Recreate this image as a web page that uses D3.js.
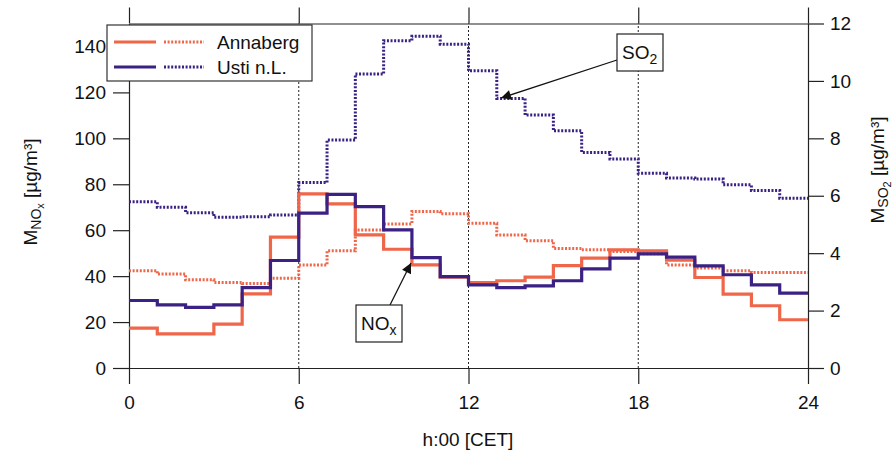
<!DOCTYPE html>
<html>
<head>
<meta charset="utf-8">
<script src="https://cdn.jsdelivr.net/npm/d3@7"></script>
<style>
  html, body { margin: 0; padding: 0; background: #fff; }
  svg { display: block; font-family: Arial, "Liberation Sans", sans-serif; }
</style>
</head>
<body>
<svg id="chart" width="894" height="454"></svg>
<script>
const hours = [0,1,2,3,4,5,6,7,8,9,10,11,12,13,14,15,16,17,18,19,20,21,22,23];
const xTicks = [0, 6, 12, 18, 24];
const gridHours = [6, 12, 18];
const leftTicks = [0, 20, 40, 60, 80, 100, 120, 140];
const rightTicks = [0, 2, 4, 6, 8, 10, 12];

const annabergNOx = [17.4,14.9,14.9,19.1,32.3,57.0,75.8,71.5,58.0,51.7,44.9,39.6,37.2,38.0,39.6,44.6,47.8,51.4,51.0,47.0,39.4,32.2,27.1,21.0];
const ustiNOx     = [29.4,27.5,26.4,27.5,35.0,46.8,67.4,75.6,70.3,60.1,48.1,39.8,36.2,35.0,35.8,38.0,43.2,47.8,49.7,48.3,44.5,40.6,36.2,32.6];
const annabergSO2 = [3.39,3.27,3.07,2.98,2.94,3.13,3.59,4.08,4.81,5.02,5.45,5.37,5.04,4.63,4.43,4.16,4.12,4.06,3.98,3.59,3.48,3.39,3.33,3.33];
const ustiSO2     = [5.79,5.60,5.41,5.25,5.27,5.33,6.46,7.94,10.24,11.40,11.56,11.28,10.35,9.39,8.81,8.26,7.51,7.28,6.78,6.62,6.58,6.38,6.18,5.91];

const stations = ["Annaberg", "Usti n.L."];
const RED = "#EF6649", BLUE = "#3A2183";
const colors = [RED, BLUE];

const svg = d3.select("#chart");
const L = 129, R = 808, T = 23.5, B = 368;
const x = d3.scaleLinear().domain([0, 24]).range([L, R]);
const yL = d3.scaleLinear().domain([0, 150]).range([B, T]);
const yR = d3.scaleLinear().domain([0, 12]).range([B, T]);

const FS = 19;

// grid (dotted verticals)
svg.append("g").selectAll("line").data(gridHours).join("line")
  .attr("x1", d => x(d)).attr("x2", d => x(d))
  .attr("y1", B).attr("y2", T)
  .attr("stroke", "#222").attr("stroke-width", 1).attr("stroke-dasharray", "2,2");

function styleAxis(g) {
  g.selectAll(".domain").attr("stroke", "#222").attr("stroke-width", 1.2);
  g.selectAll(".tick line").attr("stroke", "#222").attr("stroke-width", 1.2);
  g.selectAll(".tick text").attr("font-size", FS).attr("fill", "#111")
    .attr("font-family", "Arial, 'Liberation Sans', sans-serif");
}

svg.append("g").attr("transform", `translate(0,${B})`)
  .call(d3.axisBottom(x).tickValues(xTicks).tickSize(16).tickPadding(12).tickSizeOuter(0))
  .call(styleAxis);
svg.append("g").attr("transform", `translate(0,${T})`)
  .call(d3.axisTop(x).tickValues(xTicks).tickSize(16).tickFormat("").tickSizeOuter(0))
  .call(styleAxis);
svg.append("g").attr("transform", `translate(${L},0)`)
  .call(d3.axisLeft(yL).tickValues(leftTicks).tickSize(16).tickPadding(7).tickSizeOuter(0))
  .call(styleAxis);
svg.append("g").attr("transform", `translate(${R},0)`)
  .call(d3.axisRight(yR).tickValues(rightTicks).tickSize(16).tickPadding(6).tickSizeOuter(0))
  .call(styleAxis);

// step lines
function stepData(vals) {
  const pts = hours.map((h, i) => [h, vals[i]]);
  pts.push([24, vals[vals.length - 1]]);
  return pts;
}
const lineL = d3.line().x(d => x(d[0])).y(d => yL(d[1])).curve(d3.curveStepAfter);
const lineR = d3.line().x(d => x(d[0])).y(d => yR(d[1])).curve(d3.curveStepAfter);

const plot = svg.append("g");
[annabergSO2, ustiSO2].forEach((vals, i) => {
  plot.append("path").attr("d", lineR(stepData(vals)))
    .attr("fill", "none").attr("stroke", colors[i]).attr("stroke-width", 3)
    .attr("stroke-dasharray", "2,1.6");
});
[annabergNOx, ustiNOx].forEach((vals, i) => {
  plot.append("path").attr("d", lineL(stepData(vals)))
    .attr("fill", "none").attr("stroke", colors[i]).attr("stroke-width", 3.2);
});

// axis titles
svg.append("text").attr("x", 468).attr("y", 446).attr("text-anchor", "middle")
  .attr("font-size", FS).attr("fill", "#111").text("h:00 [CET]");

const lt = svg.append("text").attr("transform", "translate(37,192) rotate(-90)")
  .attr("text-anchor", "middle").attr("font-size", FS).attr("fill", "#111");
lt.append("tspan").text("M");
lt.append("tspan").attr("font-size", 14).attr("dy", 4).text("NO");
lt.append("tspan").attr("font-size", 11).attr("dy", 3).text("x");
lt.append("tspan").attr("dy", -7).text(" [µg/m³]");

const rt = svg.append("text").attr("transform", "translate(884,170) rotate(-90)")
  .attr("text-anchor", "middle").attr("font-size", FS).attr("fill", "#111");
rt.append("tspan").text("M");
rt.append("tspan").attr("font-size", 14).attr("dy", 4).text("SO");
rt.append("tspan").attr("font-size", 11).attr("dy", 3).text("2");
rt.append("tspan").attr("dy", -7).text(" [µg/m³]");

// legend
const lg = svg.append("g");
lg.append("rect").attr("x", 107).attr("y", 25).attr("width", 205).attr("height", 56)
  .attr("fill", "#fff").attr("stroke", "#333").attr("stroke-width", 1.2);
stations.forEach((s, i) => {
  const yy = 42 + i * 25;
  lg.append("line").attr("x1", 114).attr("x2", 156).attr("y1", yy).attr("y2", yy)
    .attr("stroke", colors[i]).attr("stroke-width", 3.2);
  lg.append("line").attr("x1", 164).attr("x2", 204).attr("y1", yy).attr("y2", yy)
    .attr("stroke", colors[i]).attr("stroke-width", 3).attr("stroke-dasharray", "2,1.6");
  lg.append("text").attr("x", 217).attr("y", yy + 7).attr("font-size", FS).attr("fill", "#111").text(s);
});

// annotations
const defs = svg.append("defs");
defs.append("marker").attr("id", "ah").attr("viewBox", "0 0 10 10")
  .attr("refX", 10).attr("refY", 5).attr("markerWidth", 14).attr("markerHeight", 10)
  .attr("markerUnits", "userSpaceOnUse").attr("orient", "auto")
  .append("path").attr("d", "M0,0 L10,5 L0,10 Z").attr("fill", "#111");

function annot(bx, by, bw, bh, main, sub, ax1, ay1, ax2, ay2) {
  svg.append("line").attr("x1", ax1).attr("y1", ay1).attr("x2", ax2).attr("y2", ay2)
    .attr("stroke", "#111").attr("stroke-width", 1.3).attr("marker-end", "url(#ah)");
  svg.append("rect").attr("x", bx).attr("y", by).attr("width", bw).attr("height", bh)
    .attr("fill", "#fff").attr("stroke", "#222").attr("stroke-width", 1.2);
  const t = svg.append("text").attr("x", bx + 5).attr("y", by + 25).attr("font-size", FS).attr("fill", "#111");
  t.append("tspan").text(main);
  t.append("tspan").attr("font-size", 14).attr("dy", 5).text(sub);
}
annot(617, 34, 46, 37, "SO", "2", 617, 60, 501, 98);
annot(356, 305, 46, 37, "NO", "x", 390, 305, 411, 263);
</script>
</body>
</html>
